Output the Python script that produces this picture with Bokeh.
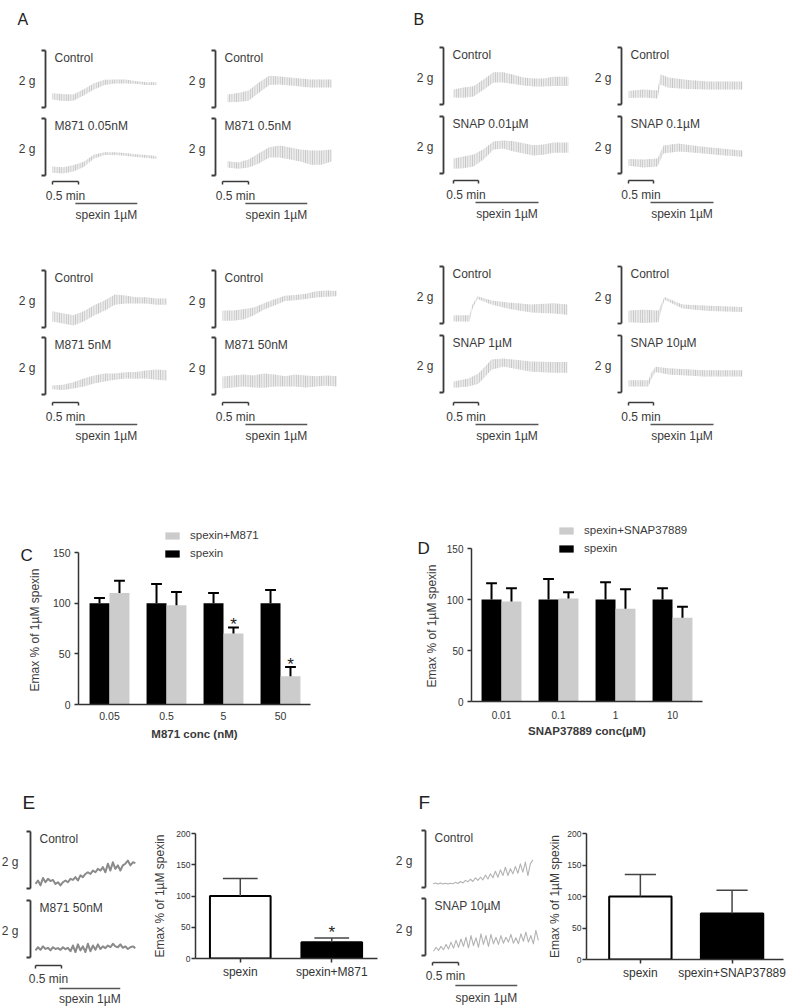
import numpy as np
from bokeh.plotting import figure
from bokeh.models import Range1d, FixedTicker, Legend, LegendItem, Title
from bokeh.layouts import row, column
from bokeh.embed import file_html
from bokeh.resources import INLINE
from bokeh.core.properties import value

FONT = "Liberation Sans"
INK = "#3a3a3a"
AXIS = "#333333"

# ======================= DATA =======================
scale_g = 2.0
scale_min = 0.5

# ---- Panel A traces (M871): band = mid +/- oscillation half-amplitude, g above bracket base
a_t11 = [0.0, 0.2, 0.4, 0.6, 0.8, 1.0, 1.2, 1.4, 1.6, 1.8, 2.0]
a_t11r = [0.1, 0.3, 0.5, 0.7, 0.9, 1.1, 1.3, 1.5, 1.7, 1.9, 2.1]
a_t12 = [0.0, 0.2, 0.4, 0.6, 0.8, 1.0, 1.2, 1.4, 1.6, 1.8, 2.0, 2.2]
a_labels = [["Control", "M871 0.05nM"], ["Control", "M871 0.5nM"],
            ["Control", "M871 5nM"], ["Control", "M871 50nM"]]
a1_ctrl_mid = [0.39, 0.35, 0.35, 0.53, 0.74, 0.88, 0.91, 0.91, 0.88, 0.84, 0.84]
a1_ctrl_amp = [0.11, 0.12, 0.11, 0.11, 0.11, 0.09, 0.07, 0.07, 0.05, 0.05, 0.05]
a1_drug_mid = [0.21, 0.18, 0.25, 0.39, 0.67, 0.77, 0.77, 0.74, 0.70, 0.67, 0.63]
a1_drug_amp = [0.11, 0.11, 0.11, 0.09, 0.07, 0.05, 0.05, 0.05, 0.05, 0.05, 0.05]
a2_ctrl_mid = [0.32, 0.35, 0.42, 0.70, 0.95, 0.95, 0.91, 0.88, 0.84, 0.84, 0.84]
a2_ctrl_amp = [0.14, 0.16, 0.18, 0.18, 0.16, 0.14, 0.14, 0.14, 0.14, 0.14, 0.14]
a2_drug_mid = [0.39, 0.35, 0.42, 0.60, 0.81, 0.84, 0.77, 0.70, 0.63, 0.63, 0.70]
a2_drug_amp = [0.11, 0.11, 0.14, 0.18, 0.18, 0.21, 0.21, 0.21, 0.25, 0.25, 0.21]
a3_ctrl_mid = [0.39, 0.32, 0.25, 0.39, 0.60, 0.77, 0.98, 0.98, 0.95, 0.95, 0.91, 0.91]
a3_ctrl_amp = [0.18, 0.18, 0.18, 0.18, 0.18, 0.18, 0.18, 0.14, 0.11, 0.11, 0.11, 0.11]
a3_drug_mid = [0.25, 0.25, 0.32, 0.42, 0.53, 0.60, 0.63, 0.67, 0.67, 0.70, 0.70, 0.67]
a3_drug_amp = [0.07, 0.09, 0.11, 0.14, 0.14, 0.14, 0.11, 0.11, 0.12, 0.14, 0.18, 0.18]
a4_ctrl_mid = [0.42, 0.42, 0.46, 0.56, 0.74, 0.88, 1.02, 1.05, 1.09, 1.16, 1.19, 1.19]
a4_ctrl_amp = [0.18, 0.18, 0.18, 0.14, 0.11, 0.11, 0.09, 0.09, 0.09, 0.11, 0.11, 0.09]
a4_drug_mid = [0.42, 0.46, 0.49, 0.46, 0.49, 0.49, 0.46, 0.49, 0.46, 0.46, 0.49, 0.46]
a4_drug_amp = [0.21, 0.21, 0.21, 0.21, 0.25, 0.21, 0.18, 0.21, 0.21, 0.18, 0.18, 0.18]

# ---- Panel B traces (SNAP37889)
b_labels = [["Control", "SNAP 0.01µM"], ["Control", "SNAP 0.1µM"],
            ["Control", "SNAP 1µM"], ["Control", "SNAP 10µM"]]
b_t13 = [0.0, 0.2, 0.4, 0.6, 0.8, 1.0, 1.2, 1.4, 1.6, 1.8, 2.0, 2.2, 2.3]
b1_ctrl_mid = [0.39, 0.42, 0.46, 0.70, 0.95, 0.95, 0.88, 0.81, 0.77, 0.77, 0.81, 0.81, 0.81]
b1_ctrl_amp = [0.14, 0.18, 0.18, 0.18, 0.18, 0.18, 0.16, 0.14, 0.14, 0.14, 0.16, 0.16, 0.16]
b1_drug_mid = [0.35, 0.39, 0.46, 0.67, 0.98, 1.02, 0.95, 0.88, 0.81, 0.84, 0.91, 0.91, 0.91]
b1_drug_amp = [0.18, 0.21, 0.21, 0.18, 0.14, 0.14, 0.18, 0.18, 0.18, 0.18, 0.18, 0.18, 0.18]
b2_ctrl_t = [0.0, 0.3, 0.58, 0.64, 0.8, 1.2, 1.6, 2.0, 2.28]
b2_ctrl_mid = [0.35, 0.39, 0.35, 0.88, 0.77, 0.70, 0.67, 0.67, 0.67]
b2_ctrl_amp = [0.12, 0.14, 0.14, 0.18, 0.18, 0.16, 0.14, 0.14, 0.14]
b2_drug_t = [0.0, 0.3, 0.58, 0.7, 1.0, 1.4, 1.8, 2.28]
b2_drug_mid = [0.39, 0.35, 0.39, 0.84, 0.91, 0.84, 0.77, 0.70]
b2_drug_amp = [0.12, 0.14, 0.14, 0.14, 0.14, 0.12, 0.12, 0.11]
b3_ctrl_t = [0.0, 0.32, 0.38, 0.48, 0.76, 1.1, 1.56, 2.0, 2.28]
b3_ctrl_mid = [0.18, 0.18, 0.60, 0.91, 0.74, 0.63, 0.53, 0.53, 0.49]
b3_ctrl_amp = [0.11, 0.11, 0.07, 0.05, 0.07, 0.11, 0.14, 0.18, 0.18]
b3_drug_t = [0.0, 0.3, 0.5, 0.76, 1.0, 1.56, 2.0, 2.28]
b3_drug_mid = [0.28, 0.35, 0.49, 0.98, 1.05, 0.91, 0.88, 0.88]
b3_drug_amp = [0.11, 0.14, 0.18, 0.18, 0.14, 0.18, 0.19, 0.19]
b4_ctrl_t = [0.0, 0.3, 0.6, 0.66, 0.72, 1.08, 1.62, 2.28]
b4_ctrl_mid = [0.25, 0.25, 0.25, 0.60, 0.88, 0.60, 0.53, 0.49]
b4_ctrl_amp = [0.21, 0.23, 0.21, 0.11, 0.05, 0.07, 0.09, 0.09]
b4_drug_t = [0.0, 0.4, 0.46, 0.54, 0.8, 1.5, 2.28]
b4_drug_mid = [0.32, 0.32, 0.60, 0.81, 0.74, 0.67, 0.67]
b4_drug_amp = [0.11, 0.11, 0.11, 0.09, 0.11, 0.11, 0.11]

# ---- Panel C
c_conc = ["0.05", "0.5", "5", "50"]
c_spexin_mean = [100, 100, 100, 100]
c_spexin_sem = [5, 19, 10, 13]
c_m871_mean = [110, 98, 70, 28]
c_m871_sem = [12, 13, 6, 9]
c_signif = [False, False, True, True]

# ---- Panel D
d_conc = ["0.01", "0.1", "1", "10"]
d_spexin_mean = [100, 100, 100, 100]
d_spexin_sem = [16, 20, 17, 11]
d_snap_mean = [98, 101, 91, 82]
d_snap_sem = [13, 6, 19, 11]
d_signif = [False, False, False, False]

# ---- Panel E / F traces (zig-zag vertices, g above bracket base, one every ef_dt min)
ef_dt = 0.048
e_labels = ["Control", "M871 50nM"]
e_ctrl = [0.16, 0.28, 0.11, 0.37, 0.22, 0.34, 0.26, 0.30, 0.16, 0.22, 0.11, 0.22, 0.28, 0.22,
          0.34, 0.30, 0.40, 0.28, 0.46, 0.40, 0.51, 0.57, 0.51, 0.63, 0.57, 0.69, 0.63, 0.75,
          0.57, 0.87, 0.63, 0.92, 0.69, 0.81, 0.63, 0.81, 0.87, 0.98, 0.81, 0.92, 0.89]
e_drug = [0.25, 0.36, 0.27, 0.39, 0.30, 0.34, 0.25, 0.36, 0.30, 0.33, 0.27, 0.36, 0.29, 0.34,
          0.22, 0.42, 0.19, 0.46, 0.25, 0.39, 0.19, 0.48, 0.22, 0.42, 0.27, 0.46, 0.30, 0.39,
          0.33, 0.42, 0.36, 0.48, 0.39, 0.36, 0.46, 0.34, 0.39, 0.30, 0.36, 0.39, 0.33]
f_labels = ["Control", "SNAP 10µM"]
f_ctrl = [0.13, 0.16, 0.12, 0.16, 0.12, 0.15, 0.12, 0.15, 0.13, 0.18, 0.14, 0.21, 0.16, 0.25,
          0.20, 0.29, 0.21, 0.34, 0.25, 0.36, 0.27, 0.44, 0.30, 0.48, 0.34, 0.57, 0.36, 0.62,
          0.42, 0.71, 0.42, 0.66, 0.48, 0.74, 0.50, 0.83, 0.54, 0.89, 0.42, 0.83, 0.97]
f_drug = [0.15, 0.29, 0.18, 0.32, 0.20, 0.39, 0.23, 0.47, 0.26, 0.53, 0.29, 0.58, 0.32, 0.64,
          0.27, 0.70, 0.35, 0.62, 0.29, 0.76, 0.39, 0.70, 0.32, 0.74, 0.41, 0.64, 0.39, 0.70,
          0.43, 0.64, 0.47, 0.74, 0.43, 0.62, 0.41, 0.76, 0.50, 0.82, 0.47, 0.70, 0.41, 0.88, 0.53]

# ---- Panel E / F bars
e_groups = ["spexin", "spexin+M871"]
e_mean = [100, 26]
e_sem = [28, 7]
e_signif = [False, True]
f_groups = ["spexin", "spexin+SNAP37889"]
f_mean = [100, 73]
f_sem = [35, 37]
f_signif = [False, False]

# spexin application window (min after scale-bar start)
spexin_52 = (0.44, 1.63)
spexin_50 = (0.44, 1.70)

YLAB = "Emax % of 1µM spexin"


# ======================= HELPERS =======================
def put_text(p, x, y, s, size="12px", align="left", baseline="middle", color=INK, bold=False):
    p.text(x=[x], y=[y], text=[s], text_font=value(FONT), text_font_size=size,
           text_align=align, text_baseline=baseline, text_color=color,
           text_font_style="bold" if bold else "normal")


def trace_canvas(left, top, width, height, ppm, ppg):
    p = figure(width=width, height=height,
               x_range=Range1d(0, width / ppm), y_range=Range1d(0, height / ppg),
               toolbar_location=None, output_backend="svg",
               x_axis_location=None, y_axis_location=None, min_border=0)
    p.grid.visible = False
    p.outline_line_color = None

    def X(px):
        return (px - left) / ppm

    def Y(py):
        return (top + height - py) / ppg
    return p, X, Y


def draw_column(p, X, Y, ppm, ppg, bracket_x, origin_x, bottoms, bar_y, labels, traces,
                span, kind, g_gap=10, offs=(14, 22, 33.5)):
    x0 = X(origin_x)
    xb = X(bracket_x)
    tick = 4.0 / ppm
    for bottom, lab, tr in zip(bottoms, labels, traces):
        yb = Y(bottom)
        yt = yb + scale_g
        p.segment(x0=[xb, xb - tick, xb - tick], y0=[yb, yb, yt],
                  x1=[xb, xb, xb], y1=[yt, yb, yt], line_color=INK, line_width=1.8)
        put_text(p, X(bracket_x - g_gap), yb + scale_g / 2 - 2.0 / ppg, "2 g", align="right")
        put_text(p, X(bracket_x + 9), yt - 7.0 / ppg, lab)
        if kind == "band":
            t, mid, amp = tr
            tt = x0 + np.asarray(t, float)
            m = yb + np.asarray(mid, float)
            a = np.asarray(amp, float)
            p.varea(x=tt, y1=m - a, y2=m + a, fill_color="#ebebeb",
                    hatch_pattern="vertical_line", hatch_color="#b2b2b2",
                    hatch_scale=2.3, hatch_weight=0.75)
        else:
            t0, vals, color, width = tr
            vals = np.asarray(vals, float)
            tt = x0 + t0 + ef_dt * np.arange(len(vals))
            p.line(tt, yb + vals, line_color=color, line_width=width, line_join="round")
    yb = Y(bar_y)
    d = 3.0 / ppg
    p.segment(x0=[x0, x0, x0 + scale_min], y0=[yb, yb, yb],
              x1=[x0 + scale_min, x0, x0 + scale_min], y1=[yb, yb - d, yb - d],
              line_color=INK, line_width=1.5)
    put_text(p, x0 + scale_min / 2, Y(bar_y + offs[0]), "0.5 min", align="center")
    ys = Y(bar_y + offs[1])
    p.segment(x0=[x0 + span[0]], y0=[ys], x1=[x0 + span[1]], y1=[ys],
              line_color="#555555", line_width=1.5)
    put_text(p, x0 + (span[0] + span[1]) / 2, Y(bar_y + offs[2]), "spexin 1µM", align="center")


def style_axis(ax, size, tick_out, standoff):
    ax.axis_line_color = AXIS
    ax.axis_line_width = 1.5
    ax.major_tick_line_color = AXIS
    ax.major_tick_line_width = 1.5
    ax.major_tick_in = 0
    ax.major_tick_out = tick_out
    ax.minor_tick_line_color = None
    ax.major_label_text_font = FONT
    ax.major_label_text_font_size = size
    ax.major_label_text_color = "#333333"
    ax.major_label_standoff = standoff
    ax.axis_label_text_font = FONT
    ax.axis_label_text_color = INK
    ax.axis_label_text_font_style = "normal"


def letter_title(p, letter, offset, standoff, size):
    p.title.text = letter
    p.title.align = "left"
    p.title.offset = offset
    p.title.vertical_align = "bottom"
    p.title.standoff = standoff
    p.title.text_font = FONT
    p.title.text_font_size = size
    p.title.text_font_style = "normal"
    p.title.text_color = "#222222"


def grouped_chart(box, frame, ymax_px, c0, spacing, cats, sp_mean, sp_sem, tr_mean, tr_sem,
                  signif, tr_label, xlabel, letter, letter_px, legend_px, tick_size,
                  ylab_offset, ylab_standoff, xtick_standoff, xlab_standoff):
    # frame = (left, top, right, bottom) in px; ymax_px = px of value 150
    left, top, w, h = box
    fl, ft, fr, fb = frame
    ppu = (fb - ymax_px) / 150.0
    p = figure(width=w, height=h,
               x_range=Range1d((fl - c0) / spacing, (fr - c0) / spacing),
               y_range=Range1d(0, (fb - ft) / ppu),
               toolbar_location=None, output_backend="svg",
               min_border_left=fl - left, min_border_right=left + w - fr,
               min_border_top=ft - top, min_border_bottom=top + h - fb)
    p.grid.visible = False
    p.outline_line_color = None

    idx = np.arange(len(cats), dtype=float)
    bw = 0.35
    xs = idx - bw / 2
    xt = idx + bw / 2
    r_sp = p.vbar(x=xs, top=sp_mean, width=bw, fill_color="#000000", line_color=None)
    r_tr = p.vbar(x=xt, top=tr_mean, width=bw, fill_color="#cccccc", line_color=None)
    cw = 0.19
    for xx, m, s in [(xs, sp_mean, sp_sem), (xt, tr_mean, tr_sem)]:
        m = np.asarray(m, float)
        s = np.asarray(s, float)
        p.segment(x0=xx, y0=m, x1=xx, y1=m + s, line_color="#000000", line_width=2)
        p.segment(x0=xx - cw / 2, y0=m + s, x1=xx + cw / 2, y1=m + s,
                  line_color="#000000", line_width=2)
    sig = np.asarray(signif)
    if sig.any():
        tops = (np.asarray(tr_mean, float) + np.asarray(tr_sem, float))[sig]
        p.text(x=xt[sig], y=tops, text=["*"] * int(sig.sum()), text_font=value(FONT),
               text_font_size="17px", text_align="center", text_baseline="alphabetic",
               text_color="#222222", y_offset=-3)

    p.xaxis.ticker = FixedTicker(ticks=list(range(len(cats))), minor_ticks=[])
    p.xaxis.major_label_overrides = {i: c for i, c in enumerate(cats)}
    p.yaxis.ticker = FixedTicker(ticks=[0, 50, 100, 150], minor_ticks=[])
    p.yaxis.bounds = (0, 150)
    style_axis(p.xaxis[0], tick_size, 0, xtick_standoff)
    style_axis(p.yaxis[0], tick_size, 4, 4)
    p.xaxis.axis_label = xlabel
    p.xaxis.axis_label_text_font_style = "bold"
    p.xaxis.axis_label_text_font_size = "11.5px"
    p.xaxis.axis_label_standoff = xlab_standoff
    # y label: placed along the 0-150 part of the axis (frame extends above for the legend)
    p.add_layout(Title(text=YLAB, align="left", offset=ylab_offset, vertical_align="bottom",
                       standoff=ylab_standoff, text_font=FONT, text_font_size="12px",
                       text_font_style="normal", text_color=INK), "left")

    leg = Legend(items=[LegendItem(label=tr_label, renderers=[r_tr]),
                        LegendItem(label="spexin", renderers=[r_sp])],
                 location=(legend_px[0] - fl, fb - (legend_px[1] + 32)),
                 orientation="vertical", glyph_width=18, glyph_height=9,
                 label_height=14, label_standoff=9, spacing=4, padding=0, margin=0,
                 border_line_color=None, background_fill_alpha=0,
                 label_text_font=FONT, label_text_font_size="11.5px", label_text_color=INK)
    p.add_layout(leg)
    letter_title(p, letter, letter_px[0] - fl, -2 * (letter_px[1] + 4 - ft), "17px")
    return p


def pair_chart(box, frame, c0, spacing, bw, cats, means, sems, signif, cw,
               ylab_standoff, ytick_standoff, star_off):
    left, top, w, h = box
    fl, ft, fr, fb = frame
    p = figure(width=w, height=h,
               x_range=Range1d((fl - c0) / spacing, (fr - c0) / spacing),
               y_range=Range1d(0, 200),
               toolbar_location=None, output_backend="svg",
               min_border_left=fl - left, min_border_right=left + w - fr,
               min_border_top=ft - top, min_border_bottom=top + h - fb)
    p.grid.visible = False
    p.outline_line_color = None
    xs = np.arange(len(cats), dtype=float)
    m = np.asarray(means, float)
    s = np.asarray(sems, float)
    p.vbar(x=xs, top=m, width=bw, fill_color=["#ffffff", "#000000"],
           line_color="#000000", line_width=2)
    p.segment(x0=xs, y0=m, x1=xs, y1=m + s, line_color="#444444", line_width=1.5)
    p.segment(x0=xs - cw / 2, y0=m + s, x1=xs + cw / 2, y1=m + s,
              line_color="#444444", line_width=1.5)
    sig = np.asarray(signif)
    if sig.any():
        p.text(x=xs[sig], y=(m + s)[sig], text=["*"] * int(sig.sum()), text_font=value(FONT),
               text_font_size="17px", text_align="center", text_baseline="alphabetic",
               text_color="#222222", y_offset=star_off)
    p.xaxis.ticker = FixedTicker(ticks=list(range(len(cats))), minor_ticks=[])
    p.xaxis.major_label_overrides = {i: c for i, c in enumerate(cats)}
    p.yaxis.ticker = FixedTicker(ticks=[0, 50, 100, 150, 200], minor_ticks=[])
    style_axis(p.xaxis[0], "12px", 4, 2)
    style_axis(p.yaxis[0], "8.5px", 4, ytick_standoff)
    p.yaxis.axis_label = YLAB
    p.yaxis.axis_label_text_font_size = "12px"
    p.yaxis.axis_label_standoff = ylab_standoff
    return p


# ======================= PANEL A =======================
PPG = 28.5
figA, XA, YA = trace_canvas(0, 0, 390, 472, 52.0, PPG)
put_text(figA, XA(17), YA(19), "A", size="16px", baseline="alphabetic", color="#222222")
draw_column(figA, XA, YA, 52.0, PPG, 45, 52, [107, 175], 181, a_labels[0],
            [(a_t11, a1_ctrl_mid, a1_ctrl_amp), (a_t11, a1_drug_mid, a1_drug_amp)], spexin_52, "band")
draw_column(figA, XA, YA, 52.0, PPG, 215, 222, [107, 175], 181, a_labels[1],
            [(a_t11r, a2_ctrl_mid, a2_ctrl_amp), (a_t11r, a2_drug_mid, a2_drug_amp)], spexin_52, "band")
draw_column(figA, XA, YA, 52.0, PPG, 45, 52, [327, 394], 402, a_labels[2],
            [(a_t12, a3_ctrl_mid, a3_ctrl_amp), (a_t12, a3_drug_mid, a3_drug_amp)], spexin_52, "band")
draw_column(figA, XA, YA, 52.0, PPG, 215, 222, [327, 394], 402, a_labels[3],
            [(a_t12, a4_ctrl_mid, a4_ctrl_amp), (a_t12, a4_drug_mid, a4_drug_amp)], spexin_52, "band")

# ======================= PANEL B =======================
figB, XB, YB = trace_canvas(390, 0, 397, 472, 50.0, PPG)
put_text(figB, XB(413), YB(19), "B", size="16px", baseline="alphabetic", color="#222222")
draw_column(figB, XB, YB, 50.0, PPG, 443, 453, [104, 173], 180, b_labels[0],
            [(b_t13, b1_ctrl_mid, b1_ctrl_amp), (b_t13, b1_drug_mid, b1_drug_amp)], spexin_50, "band")
draw_column(figB, XB, YB, 50.0, PPG, 621, 628, [104, 173], 180, b_labels[1],
            [(b2_ctrl_t, b2_ctrl_mid, b2_ctrl_amp), (b2_drug_t, b2_drug_mid, b2_drug_amp)], spexin_50, "band")
draw_column(figB, XB, YB, 50.0, PPG, 443, 453, [323, 392], 402, b_labels[2],
            [(b3_ctrl_t, b3_ctrl_mid, b3_ctrl_amp), (b3_drug_t, b3_drug_mid, b3_drug_amp)], spexin_50, "band")
draw_column(figB, XB, YB, 50.0, PPG, 621, 628, [323, 392], 402, b_labels[3],
            [(b4_ctrl_t, b4_ctrl_mid, b4_ctrl_amp), (b4_drug_t, b4_drug_mid, b4_drug_amp)], spexin_50, "band")

# ======================= PANELS C, D =======================
figC = grouped_chart((0, 472, 390, 290), (78, 515, 310, 704), 552, 109, 57, c_conc,
                     c_spexin_mean, c_spexin_sem, c_m871_mean, c_m871_sem, c_signif,
                     "spexin+M871", "M871 conc (nM)", "C", (20, 560), (163, 528), "10.5px",
                     13, 16, 7, 5)
figD = grouped_chart((390, 472, 397, 290), (471, 512, 702, 701), 548, 501, 57, d_conc,
                     d_spexin_mean, d_spexin_sem, d_snap_mean, d_snap_sem, d_signif,
                     "spexin+SNAP37889", "SNAP37889 conc(µM)", "D", (417, 553), (557, 523), "10px",
                     14, 10, 9, 3)

# ======================= PANEL E =======================
figEt, XE, YE = trace_canvas(0, 762, 150, 244, 52.0, PPG)
put_text(figEt, XE(22), YE(802), "E", size="19px", baseline="alphabetic", color="#222222")
draw_column(figEt, XE, YE, 52.0, PPG, 30, 35, [888, 957], 965, e_labels,
            [(0.0, e_ctrl, "#8a8a8a", 2.0), (0.0, e_drug, "#8a8a8a", 2.0)], (0.46, 1.63), "zig",
            g_gap=12, offs=(13, 23, 33))
figEb = pair_chart((150, 762, 240, 244), (188, 833, 377, 958), 234.5, 95, 0.663, e_groups,
                   e_mean, e_sem, e_signif, 0.38, 6, 1, -5)

# ======================= PANEL F =======================
figFt, XF, YF = trace_canvas(390, 762, 155, 244, 52.0, PPG)
put_text(figFt, XF(418), YF(802), "F", size="19px", baseline="alphabetic", color="#222222")
draw_column(figFt, XF, YF, 52.0, PPG, 425, 432, [887, 955], 962, f_labels,
            [(0.01, f_ctrl, "#b3b3b3", 1.1), (0.02, f_drug, "#b3b3b3", 1.1)], (0.44, 1.63), "zig",
            g_gap=13, offs=(13, 23, 35))
figFb = pair_chart((545, 762, 242, 244), (580, 833, 783, 959), 635.5, 94.5, 0.68, f_groups,
                   f_mean, f_sem, f_signif, 0.34, 2, 1, -5)

# each figure sits in its own column so that rows do not align the plot frames
layout = column(row(column(figA), column(figB)),
                row(column(figC), column(figD)),
                row(column(figEt), column(figEb), column(figFt), column(figFb)))
open("out.html", "w").write(file_html(layout, INLINE))
